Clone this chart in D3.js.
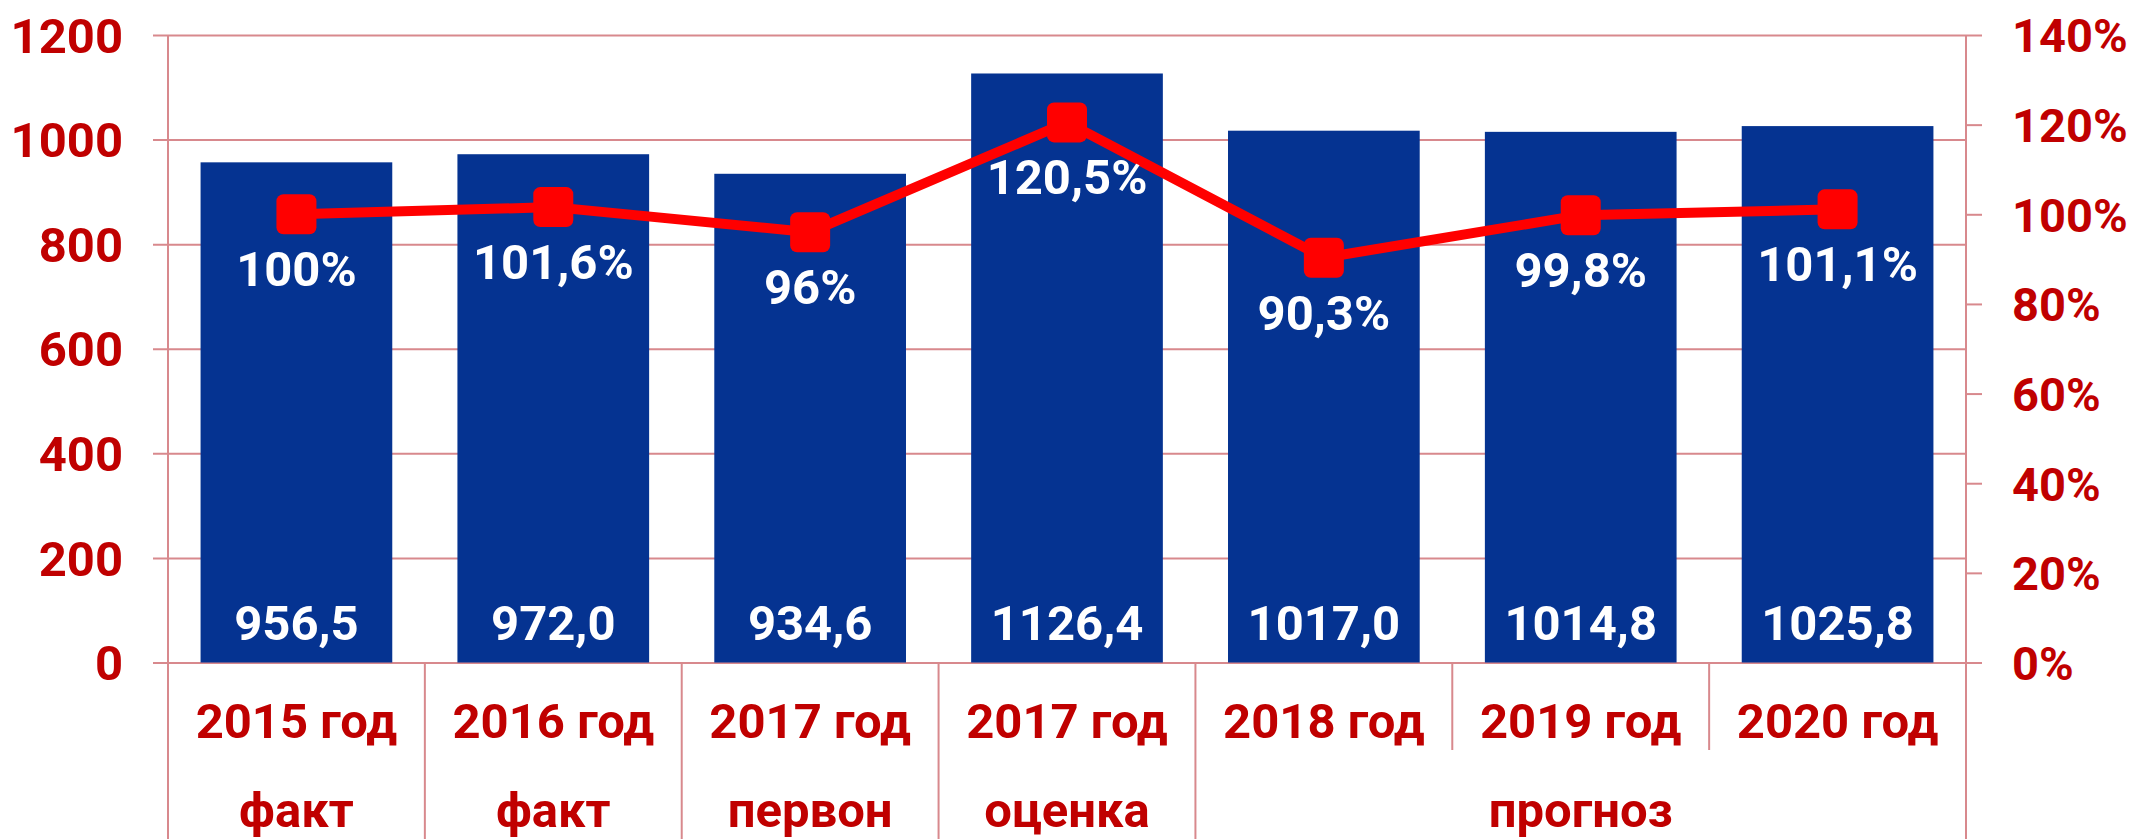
<!DOCTYPE html>
<html>
<head>
<meta charset="utf-8">
<script src="https://cdn.jsdelivr.net/npm/d3@7"></script>
<style>
    html, body { margin: 0; padding: 0; background: #fff; }
    svg { display: block; font-family: Roboto, 'Noto Sans', sans-serif; font-weight: 700; }
</style>
</head>
<body>
<svg id="chart" width="2134" height="839"></svg>
<script>
// Categories (first level) and group labels (second level)
const categories = ['2015 год', '2016 год', '2017 год', '2017 год', '2018 год', '2019 год', '2020 год'];
const groupLabels = ['факт', 'факт', 'первон', 'оценка', 'прогноз'];
const groupSpans = [1, 1, 1, 1, 3];

// Series
const volumes = [956.5, 972.0, 934.6, 1126.4, 1017.0, 1014.8, 1025.8];
const growth = [100, 101.6, 96, 120.5, 90.3, 99.8, 101.1];

// Tick labels
const leftTicks = [0, 200, 400, 600, 800, 1000, 1200];
const rightTicks = [0, 0.2, 0.4, 0.6, 0.8, 1.0, 1.2, 1.4];

const width = 2134;
const height = 839;
const plot = { left: 168, right: 1966, top: 35, bottom: 662.5 };

const barColor = '#053391';
const lineColor = '#ff0000';
const gridColor = '#d8898d';
const textColor = '#c00000';
const fontSize = 49;

const svg = d3.select('#chart');

const x = d3.scaleBand()
    .domain(d3.range(categories.length))
    .range([plot.left, plot.right])
    .paddingInner(0.2537)
    .paddingOuter(0.1268);

const band = (plot.right - plot.left) / categories.length;
const centerX = i => plot.left + band * (i + 0.5);

const yLeft = d3.scaleLinear().domain([0, 1200]).range([plot.bottom, plot.top]);
const yRight = d3.scaleLinear().domain([0, 1.4]).range([plot.bottom, plot.top]);

const fmtValue = v => d3.format('.1f')(v).replace('.', ',');
const fmtGrowth = v => (Number.isInteger(v) ? String(v) : d3.format('.1f')(v).replace('.', ',')) + '%';
const fmtPct = v => Math.round(v * 100) + '%';

// Left axis with gridlines
const leftAxis = svg.append('g')
    .attr('transform', `translate(153,0)`)
    .call(d3.axisLeft(yLeft)
        .tickValues(leftTicks)
        .tickSize(-(plot.right - 153))
        .tickPadding(30)
        .tickFormat(d3.format('d')));
leftAxis.select('.domain').remove();
leftAxis.selectAll('.tick line').attr('stroke', gridColor).attr('stroke-width', 2);
leftAxis.selectAll('.tick text')
    .attr('fill', textColor)
    .attr('font-size', fontSize)
    .attr('dy', '0.35em');
leftAxis.attr('font-family', null).attr('font-size', null);

// Right axis
const rightAxis = svg.append('g')
    .attr('transform', `translate(${plot.right},0)`)
    .call(d3.axisRight(yRight)
        .tickValues(rightTicks)
        .tickSize(16)
        .tickPadding(30)
        .tickFormat(fmtPct));
rightAxis.select('.domain').remove();
rightAxis.selectAll('.tick line').attr('stroke', gridColor).attr('stroke-width', 2);
rightAxis.selectAll('.tick text')
    .attr('fill', textColor)
    .attr('font-size', 47)
    .attr('dy', '0.36em');
rightAxis.attr('font-family', null).attr('font-size', null);

// Vertical axis lines (running down through the category area)
svg.append('g')
    .selectAll('line')
    .data([plot.left, plot.right])
    .enter().append('line')
    .attr('x1', d => d).attr('x2', d => d)
    .attr('y1', plot.top).attr('y2', height)
    .attr('stroke', gridColor).attr('stroke-width', 2);

// Bars
svg.append('g')
    .selectAll('rect')
    .data(volumes)
    .enter().append('rect')
    .attr('x', (d, i) => x(i))
    .attr('width', x.bandwidth())
    .attr('y', d => yLeft(d))
    .attr('height', d => yLeft(0) - yLeft(d))
    .attr('fill', barColor);

// Category separators: first level short, group boundaries full height
const groupEdges = d3.cumsum(groupSpans);
const catSep = svg.append('g');
d3.range(1, categories.length).forEach(i => {
    const isGroupEdge = groupEdges.includes(i);
    catSep.append('line')
        .attr('x1', plot.left + band * i).attr('x2', plot.left + band * i)
        .attr('y1', plot.bottom).attr('y2', isGroupEdge ? height : 750)
        .attr('stroke', gridColor).attr('stroke-width', 2);
});

// Category labels
svg.append('g')
    .selectAll('text')
    .data(categories)
    .enter().append('text')
    .attr('x', (d, i) => centerX(i))
    .attr('y', 738)
    .attr('text-anchor', 'middle')
    .attr('fill', textColor)
    .attr('font-size', fontSize)
    .text(d => d);

// Group labels
const groupStarts = [0, ...groupEdges.slice(0, -1)];
svg.append('g')
    .selectAll('text')
    .data(groupLabels)
    .enter().append('text')
    .attr('x', (d, i) => plot.left + band * (groupStarts[i] + groupSpans[i] / 2))
    .attr('y', 827)
    .attr('text-anchor', 'middle')
    .attr('fill', textColor)
    .attr('font-size', fontSize)
    .text(d => d);

// Growth line
const growthLine = d3.line()
    .x((d, i) => centerX(i))
    .y(d => yRight(d / 100));

svg.append('path')
    .datum(growth)
    .attr('d', growthLine)
    .attr('fill', 'none')
    .attr('stroke', lineColor)
    .attr('stroke-width', 10)
    .attr('stroke-linejoin', 'round');

svg.append('g')
    .selectAll('rect')
    .data(growth)
    .enter().append('rect')
    .attr('x', (d, i) => centerX(i) - 20)
    .attr('y', d => yRight(d / 100) - 20)
    .attr('width', 40)
    .attr('height', 40)
    .attr('rx', 7)
    .attr('fill', lineColor);

// Value labels inside bars
svg.append('g')
    .selectAll('text')
    .data(volumes)
    .enter().append('text')
    .attr('x', (d, i) => centerX(i))
    .attr('y', 640)
    .attr('text-anchor', 'middle')
    .attr('fill', '#fff')
    .attr('font-size', fontSize)
    .text(fmtValue);

// Growth labels below markers
svg.append('g')
    .selectAll('text')
    .data(growth)
    .enter().append('text')
    .attr('x', (d, i) => centerX(i))
    .attr('y', d => yRight(d / 100) + 72)
    .attr('text-anchor', 'middle')
    .attr('fill', '#fff')
    .attr('font-size', fontSize)
    .text(fmtGrowth);
</script>
</body>
</html>
